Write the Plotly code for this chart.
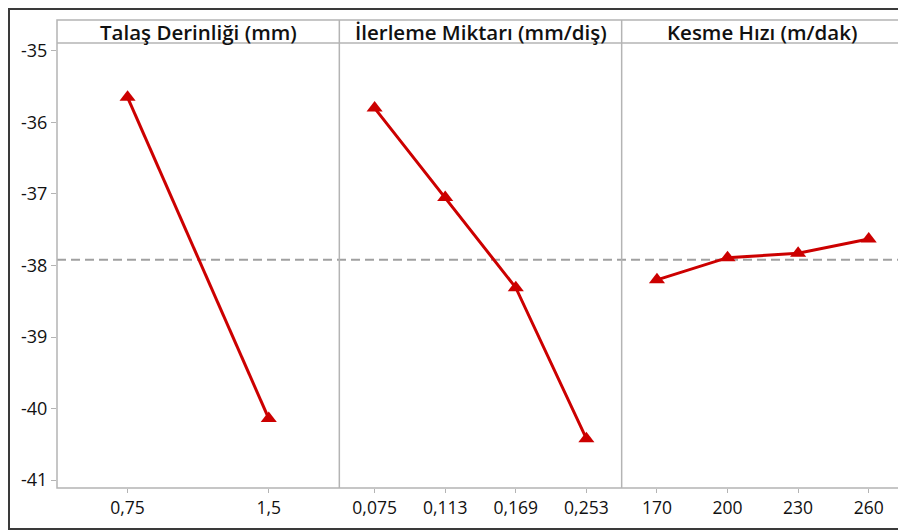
import plotly.graph_objects as go
from plotly.subplots import make_subplots

# ---- data ----
panel_titles = ["Talaş Derinliği (mm)", "İlerleme Miktarı (mm/diş)", "Kesme Hızı (m/dak)"]
talas_levels = ["0,75", "1,5"]
talas_vals = [-35.65, -40.14]
ilerleme_levels = ["0,075", "0,113", "0,169", "0,253"]
ilerleme_vals = [-35.80, -37.05, -38.31, -40.42]
kesme_levels = ["170", "200", "230", "260"]
kesme_vals = [-38.20, -37.89, -37.83, -37.63]
overall_mean = -37.92
y_ticks = [-35, -36, -37, -38, -39, -40, -41]

RED = "#cc0000"
GRID = "#b4b4b4"
FONT = "Open Sans"

# page has an 8px body margin, so the figure is 8px smaller and offset
OFF = 8
W, H = 906 - OFF, 531 - OFF
ML, MR, MT, MB = 57 - OFF, 2, 43 - OFF, 43
PW, PH = W - ML - MR, H - MT - MB

fig = make_subplots(rows=1, cols=3, shared_yaxes=True, horizontal_spacing=0)

series = [(talas_levels, talas_vals), (ilerleme_levels, ilerleme_vals), (kesme_levels, kesme_vals)]
for i, (lv, vals) in enumerate(series, start=1):
    fig.add_trace(go.Scatter(
        x=lv, y=vals, mode="lines+markers",
        line=dict(color=RED, width=3),
        marker=dict(symbol="triangle-up", size=14, color=RED),
        showlegend=False, cliponaxis=False), row=1, col=i)
    fig.update_xaxes(type="category", categoryorder="array", categoryarray=lv,
                     range=[-0.5, len(lv) - 0.5],
                     showgrid=False, zeroline=False, showline=False,
                     ticks="outside", ticklen=4, tickcolor=GRID, tickwidth=1,
                     tickfont=dict(family=FONT, size=17.5, color="#111111"),
                     fixedrange=True, row=1, col=i)

fig.update_yaxes(range=[-41.11, -34.89], tickvals=y_ticks, ticktext=[str(v) for v in y_ticks],
                 showgrid=False, zeroline=False, showline=False, fixedrange=True)
fig.update_yaxes(ticks="outside", ticklen=5, tickcolor=GRID, tickwidth=1,
                 tickfont=dict(family=FONT, size=18, color="#111111"), row=1, col=1)
fig.update_yaxes(showticklabels=False, ticks="", row=1, col=2)
fig.update_yaxes(showticklabels=False, ticks="", row=1, col=3)


def px_x(x):
    # x in reference page pixels
    return (x - OFF - ML) / PW


def px_y(y):
    return (H - MB - (y - OFF)) / PH


shapes = []
# overall mean dashed line
shapes.append(dict(type="line", xref="paper", yref="y", x0=0, x1=1, y0=overall_mean, y1=overall_mean,
                   line=dict(color="#a0a0a0", width=2, dash="9px,5px"), layer="below"))
# plot frame including header band
hdr_top = px_y(20)
shapes.append(dict(type="rect", xref="paper", yref="paper", x0=0, x1=1, y0=0, y1=hdr_top,
                   line=dict(color=GRID, width=1.5)))
shapes.append(dict(type="line", xref="paper", yref="paper", x0=0, x1=1, y0=1, y1=1,
                   line=dict(color=GRID, width=1.5)))
for k in (1, 2):
    shapes.append(dict(type="line", xref="paper", yref="paper", x0=k / 3, x1=k / 3, y0=0, y1=hdr_top,
                       line=dict(color=GRID, width=1.5)))
# outer dark border
shapes.append(dict(type="rect", xref="paper", yref="paper",
                   x0=px_x(9), x1=px_x(912), y0=px_y(529), y1=px_y(9),
                   line=dict(color="#3a3a3a", width=2)))

annotations = []
for k, t in enumerate(panel_titles):
    annotations.append(dict(text=t, xref="paper", yref="paper", x=(k + 0.5) / 3, y=(1 + hdr_top) / 2,
                            xanchor="center", yanchor="middle", showarrow=False,
                            font=dict(family=FONT, size=20.5, color="#111111", weight=600)))

fig.update_layout(width=W, height=H, margin=dict(l=ML, r=MR, t=MT, b=MB),
                  paper_bgcolor="white", plot_bgcolor="white",
                  shapes=shapes, annotations=annotations)

fig.write_html("out.html")
